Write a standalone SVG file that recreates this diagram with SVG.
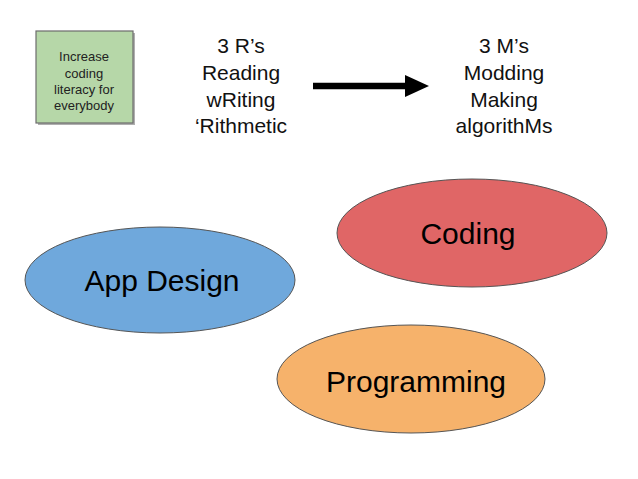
<svg xmlns="http://www.w3.org/2000/svg" width="638" height="479" viewBox="0 0 638 479">
<style>
text{font-family:"Liberation Sans",Arial,Helvetica,sans-serif;fill:#000;text-anchor:middle}
.small{font-size:13px;fill:#222}
.mid{font-size:21px;fill:#111}
.big{font-size:30px}
.ell{stroke:#555;stroke-width:1}
</style>
<rect width="638" height="479" fill="#fff"/>
<g id="goal">
<rect x="38" y="33" width="97" height="92" fill="#7a7a7a" opacity="0.6"/>
<rect x="36" y="31" width="97" height="92" fill="#b6d7a8" stroke="#6d6d6d" stroke-width="1.2"/>
<text class="small" x="84" y="61">Increase</text>
<text class="small" x="84" y="78">coding</text>
<text class="small" x="84" y="94">literacy for</text>
<text class="small" x="84" y="110">everybody</text>
</g>
<g id="three-rs">
<text class="mid" x="241" y="53">3 R’s</text>
<text class="mid" x="241" y="80">Reading</text>
<text class="mid" x="241" y="107">wRiting</text>
<text class="mid" x="241" y="133">‘Rithmetic</text>
</g>
<g id="three-ms">
<text class="mid" x="504" y="53">3 M’s</text>
<text class="mid" x="504" y="80">Modding</text>
<text class="mid" x="504" y="107">Making</text>
<text class="mid" x="504" y="133">algorithMs</text>
</g>
<g id="connectors">
<line x1="313" y1="86" x2="407" y2="86" stroke="#000" stroke-width="6.5"/>
<polygon points="405,75 429,86 405,97" fill="#000"/>
</g>
<g id="app-design">
<ellipse class="ell" cx="160" cy="280" rx="135" ry="53" fill="#6fa8dc"/>
<text class="big" x="162" y="291">App Design</text>
</g>
<g id="coding">
<ellipse class="ell" cx="472" cy="233" rx="135" ry="54" fill="#e06666"/>
<text class="big" x="468" y="244">Coding</text>
</g>
<g id="programming">
<ellipse class="ell" cx="411" cy="379" rx="134" ry="54" fill="#f6b26b"/>
<text class="big" x="416" y="392">Programming</text>
</g>
</svg>
